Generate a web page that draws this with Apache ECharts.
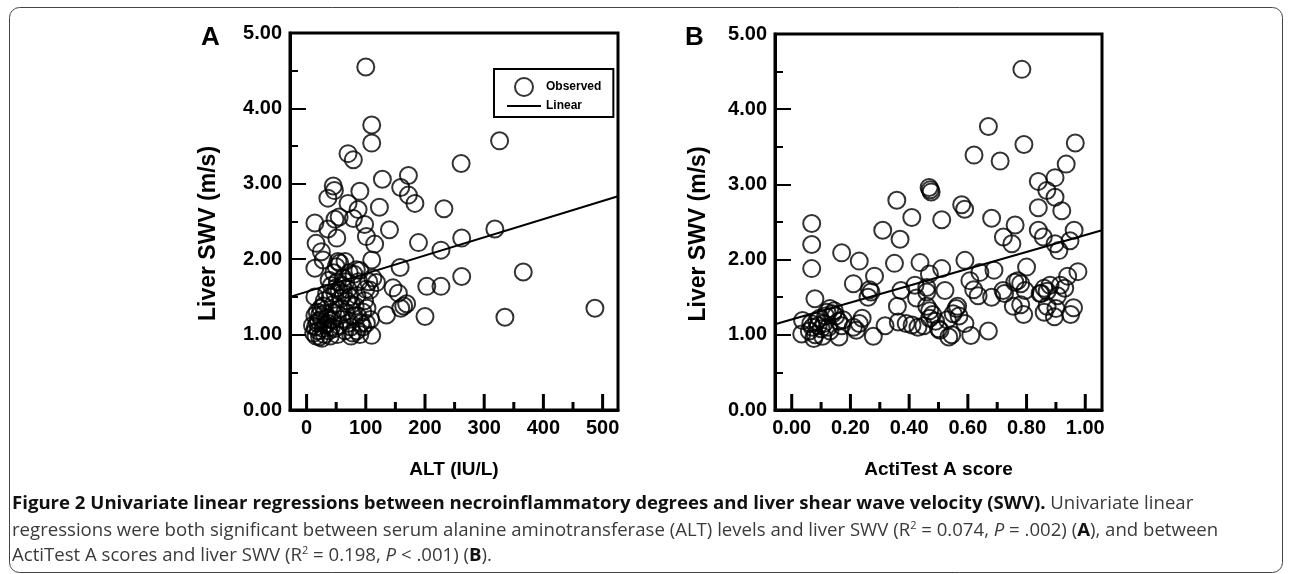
<!DOCTYPE html>
<html>
<head>
<meta charset="utf-8">
<script src="https://cdn.jsdelivr.net/npm/echarts@6/dist/echarts.min.js"></script>
<style>
html,body{margin:0;padding:0;background:#fff;}
#chart{width:1290px;height:574px;}
</style>
</head>
<body>
<div id="chart"></div>
<script>
// ---- Data ----
var altPoints = [
[100,4.55],[110,3.78],[110,3.54],[70,3.40],[79,3.32],[128,3.06],[172,3.11],[159,2.95],[45,2.97],[47,2.91],[90,2.90],[261,3.27],[326,3.57],
[36,2.81],[172,2.85],[183,2.74],[70,2.74],[123,2.69],[232,2.67],[87,2.66],[55,2.56],[48,2.53],[79,2.54],[98,2.46],[14,2.48],[36,2.40],[140,2.39],[101,2.30],[51,2.28],[115,2.20],[16,2.21],[25,2.10],[189,2.22],[262,2.28],[318,2.40],[227,2.12],[28,1.99],[110,1.99],[14,1.88],[53,1.97],[65,1.97],[158,1.89],[84,1.86],[366,1.83],[262,1.77],[203,1.64],[227,1.64],[118,1.69],[146,1.62],[107,1.59],[155,1.55],[159,1.35],[164,1.38],[169,1.41],[135,1.26],[200,1.24],[335,1.23],[487,1.35],[110,0.99],[101,1.15],[14,1.50],
[12,1.02],[15,1.10],[18,1.15],[20,1.05],[22,0.97],[25,1.20],[14,1.25],[28,1.08],[30,1.00],[32,1.13],[18,1.30],[24,1.35],[35,1.22],[38,1.05],[16,0.98],[26,0.95],[20,1.18],[30,1.28],[36,1.15],[40,0.98],[42,1.10],[44,1.30],[10,1.12],[22,1.26],
[45,1.40],[48,1.55],[50,1.62],[52,1.70],[55,1.58],[58,1.48],[60,1.65],[62,1.75],[46,1.82],[50,1.90],[56,1.95],[60,1.20],[65,1.30],[68,1.45],[70,1.60],[72,1.82],[75,1.10],[78,1.02],[80,1.25],[82,1.38],[85,1.52],[88,1.70],[90,1.85],[92,1.15],[95,1.30],[98,1.45],[100,1.60],[105,1.70],[85,1.05],[75,0.98],[70,1.15],[65,1.05],[55,1.12],[50,1.25],[48,1.08],[40,1.50],[42,1.65],[38,1.72],[58,1.35],[62,1.55],[76,1.40],[80,1.80],[95,1.10],[102,1.35],[108,1.20],[112,1.75],[34,1.55],[30,1.45],[66,1.70],[72,1.50],[86,1.25],[90,1.00],[52,1.00],[44,1.20],[28,1.38]
];
var altLine = [[-28,1.50],[526,2.835]];

var actiPoints = [
[0.784,4.53],[0.670,3.77],[0.791,3.53],[0.621,3.39],[0.710,3.31],[0.840,3.04],[0.897,3.09],[0.468,2.96],[0.472,2.93],[0.475,2.90],[0.358,2.79],[0.579,2.73],[0.589,2.67],[0.869,2.92],[0.897,2.83],[0.966,3.55],[0.935,3.27],[0.920,2.65],[0.409,2.56],[0.511,2.53],[0.681,2.55],[0.761,2.46],[0.840,2.69],[0.840,2.39],[0.857,2.30],[0.948,2.25],[0.962,2.39],[0.897,2.21],[0.910,2.12],[0.800,1.90],
[0.940,1.78],[0.975,1.84],[0.960,1.36],[0.950,1.27],[0.930,1.62],[0.915,1.66],[0.880,1.66],[0.870,1.58],[0.905,1.52],[0.900,1.35],[0.870,1.38],[0.860,1.30],[0.895,1.24],[0.850,1.55],[0.860,1.62],
[0.068,2.48],[0.068,2.20],[0.068,1.88],[0.079,1.48],[0.037,1.19],[0.034,1.01],
[0.060,1.05],[0.070,1.10],[0.080,1.00],[0.075,0.95],[0.090,1.12],[0.085,1.18],[0.065,1.15],[0.100,1.08],[0.095,1.22],[0.110,1.15],[0.120,1.30],[0.130,1.35],[0.140,1.28],[0.150,1.25],[0.125,1.10],[0.145,1.32],[0.160,1.18],[0.105,0.98],[0.115,1.25],[0.130,1.05],[0.175,1.20],[0.161,0.97],[0.170,1.12],
[0.170,2.09],[0.230,1.98],[0.210,1.68],[0.282,1.78],[0.260,1.50],[0.270,1.57],[0.265,1.60],[0.310,2.39],[0.369,2.27],[0.350,1.95],[0.372,1.59],[0.360,1.38],[0.363,1.17],[0.318,1.12],[0.278,0.98],[0.210,1.10],[0.220,1.06],[0.230,1.15],[0.240,1.22],
[0.437,1.96],[0.469,1.81],[0.511,1.88],[0.420,1.66],[0.425,1.49],[0.460,1.63],[0.460,1.57],[0.522,1.59],[0.460,1.38],[0.470,1.32],[0.390,1.15],[0.410,1.13],[0.430,1.10],[0.450,1.12],[0.470,1.22],[0.480,1.27],[0.490,1.18],[0.500,1.08],[0.505,1.06],[0.535,0.97],[0.545,1.00],[0.530,1.20],[0.550,1.28],[0.560,1.35],[0.570,1.25],[0.565,1.38],[0.590,1.15],[0.610,0.99],
[0.590,1.99],[0.607,1.72],[0.620,1.60],[0.635,1.52],[0.641,1.83],[0.670,1.05],[0.689,1.86],[0.681,1.50],[0.721,2.30],[0.750,2.21],[0.720,1.59],[0.725,1.55],[0.760,1.70],[0.770,1.72],[0.780,1.68],[0.755,1.38],[0.780,1.40],[0.790,1.27],[0.795,1.59],[0.846,1.55]
];
var actiLine = [[-0.057,1.14],[1.057,2.39]];

var altTicks = [0,100,200,300,400,500];
var altMinorTicks = [50,150,250,350,450];
var actiTicks = [0,0.2,0.4,0.6,0.8,1.0];
var actiMinorTicks = [0.1,0.3,0.5,0.7,0.9];
var altRange = [-28,526];
var actiRange = [-0.057,1.057];
var swvRange = [0,5];

var FONT = 'Liberation Sans';
var CAP = 'Open Sans';

function xAx(grid, range, ticks, name, fmt) {
  return {
    type:'value', gridIndex:grid, position:'bottom', min:range[0], max:range[1],
    axisLine:{show:true, onZero:false, lineStyle:{color:'#000', width:3}},
    axisTick:{show:false},
    axisLabel:{show:true, customValues:ticks, margin:8, color:'#000', fontFamily:FONT, fontWeight:'bold', fontSize:20, formatter:fmt},
    splitLine:{show:false},
    name:name, nameLocation:'middle', nameGap:50,
    nameTextStyle:{color:'#000', fontFamily:FONT, fontWeight:'bold', fontSize:19}
  };
}
function yAx(grid, gap) {
  return {
    type:'value', gridIndex:grid, min:swvRange[0], max:swvRange[1], interval:1,
    axisLine:{show:true, onZero:false, lineStyle:{color:'#000', width:3}},
    axisTick:{show:true, inside:true, length:16, lineStyle:{color:'#000', width:2}},
    minorTick:{show:true, splitNumber:2, length:8, lineStyle:{color:'#000', width:2}},
    axisLabel:{margin:8, color:'#000', fontFamily:FONT, fontWeight:'bold', fontSize:20, formatter:function(v){return v.toFixed(2);}},
    splitLine:{show:false}, minorSplitLine:{show:false},
    name:'Liver SWV (m/s)', nameLocation:'middle', nameGap:gap, nameRotate:90,
    nameTextStyle:{color:'#000', fontFamily:FONT, fontWeight:'bold', fontSize:23, padding:[0,24,0,0]}
  };
}
// x-axis tick marks placed through the axis scale (inside the plot, pointing up)
function tickSeries(xi, yi, values, len) {
  return {
    type:'custom', xAxisIndex:xi, yAxisIndex:yi, z:6,
    data:values.map(function(v){return [v, swvRange[0]];}),
    renderItem:function(params, api){
      var p = api.coord([api.value(0), api.value(1)]);
      return {type:'line', shape:{x1:p[0], y1:p[1], x2:p[0], y2:p[1]-len}, style:{stroke:'#000', lineWidth:3}};
    }
  };
}

var scatterStyle = {color:'rgba(0,0,0,0)', borderColor:'#000', borderWidth:2};
var capN = {fontFamily:CAP, fontSize:18.6, fill:'#3a3a3a', lineHeight:24};
var capB = {fontFamily:CAP, fontSize:18.6, fontWeight:'bold', fill:'#111', lineHeight:24};
var capI = {fontFamily:CAP, fontSize:18.6, fontStyle:'italic', fill:'#3a3a3a', lineHeight:24};
var capS = {fontFamily:CAP, fontSize:11, fill:'#3a3a3a', lineHeight:24, verticalAlign:'top', padding:[1,0,0,0]};

var chart = echarts.init(document.getElementById('chart'), null, {renderer:'canvas'});
chart.setOption({
  backgroundColor:'#fff',
  animation:false,
  grid:[
    {left:290, top:33, width:328, height:377, show:true, borderColor:'#000', borderWidth:3, backgroundColor:'transparent'},
    {left:775, top:34, width:327, height:376, show:true, borderColor:'#000', borderWidth:3, backgroundColor:'transparent'}
  ],
  xAxis:[
    xAx(0, altRange, altTicks, 'ALT (IU/L)', function(v){return String(Math.round(v));}),
    xAx(1, actiRange, actiTicks, 'ActiTest A score', function(v){return v.toFixed(2);})
  ],
  yAxis:[ yAx(0, 70), yAx(1, 65) ],
  legend:{
    show:true, orient:'vertical', left:494, top:69, width:115,
    borderColor:'#000', borderWidth:2, padding:[8,12,5,13], itemGap:3,
    itemWidth:34, itemHeight:18, selectedMode:false,
    textStyle:{color:'#000', fontFamily:FONT, fontWeight:'bold', fontSize:12},
    data:[
      {name:'Observed', icon:'circle', itemStyle:{color:'rgba(0,0,0,0)', borderColor:'#000', borderWidth:2}},
      {name:'Linear', icon:'path://M0 0 H32 V2 H0 Z', itemStyle:{color:'#000', borderWidth:0}}
    ]
  },
  series:[
    {name:'Observed', type:'scatter', xAxisIndex:0, yAxisIndex:0, data:altPoints, symbolSize:17, itemStyle:scatterStyle, z:3},
    {name:'Linear', type:'line', xAxisIndex:0, yAxisIndex:0, data:altLine, showSymbol:false, symbol:'none', lineStyle:{color:'#000', width:2}, z:4},
    {name:'Observed', type:'scatter', xAxisIndex:1, yAxisIndex:1, data:actiPoints, symbolSize:17, itemStyle:scatterStyle, z:3},
    {name:'Linear', type:'line', xAxisIndex:1, yAxisIndex:1, data:actiLine, showSymbol:false, symbol:'none', lineStyle:{color:'#000', width:2}, z:4},
    tickSeries(0, 0, altTicks, 16),
    tickSeries(0, 0, altMinorTicks, 8),
    tickSeries(1, 1, actiTicks, 16),
    tickSeries(1, 1, actiMinorTicks, 8)
  ]
});
chart.setOption({
  graphic:[
    {type:'rect', shape:{x:9.5, y:7.5, width:1273, height:565, r:10}, style:{fill:'none', stroke:'#444', lineWidth:1}, silent:true, z:-1},
    {type:'text', left:201, top:25, style:{text:'A', fill:'#000', font:'bold 26px "Liberation Sans"'}},
    {type:'text', left:685, top:25, style:{text:'B', fill:'#000', font:'bold 26px "Liberation Sans"'}},
    {type:'text', left:12, top:494, style:{
      text:'{b|Figure 2 Univariate linear regressions between necroinflammatory degrees and liver shear wave velocity (SWV).}{n| Univariate linear}',
      rich:{b:capB, n:capN}}},
    {type:'text', left:12, top:519, style:{
      text:'{n|regressions were both significant between serum alanine aminotransferase (ALT) levels and liver SWV (R}{s|2}{n| = 0.074, }{i|P}{n| = .002) (}{bb|A}{n|), and between}',
      rich:{n:capN, i:capI, bb:capB, s:capS}}},
    {type:'text', left:12, top:544, style:{
      text:'{n|ActiTest A scores and liver SWV (R}{s|2}{n| = 0.198, }{i|P}{n| < .001) (}{bb|B}{n|).}',
      rich:{n:capN, i:capI, bb:capB, s:capS}}}
  ]
});
</script>
</body>
</html>
